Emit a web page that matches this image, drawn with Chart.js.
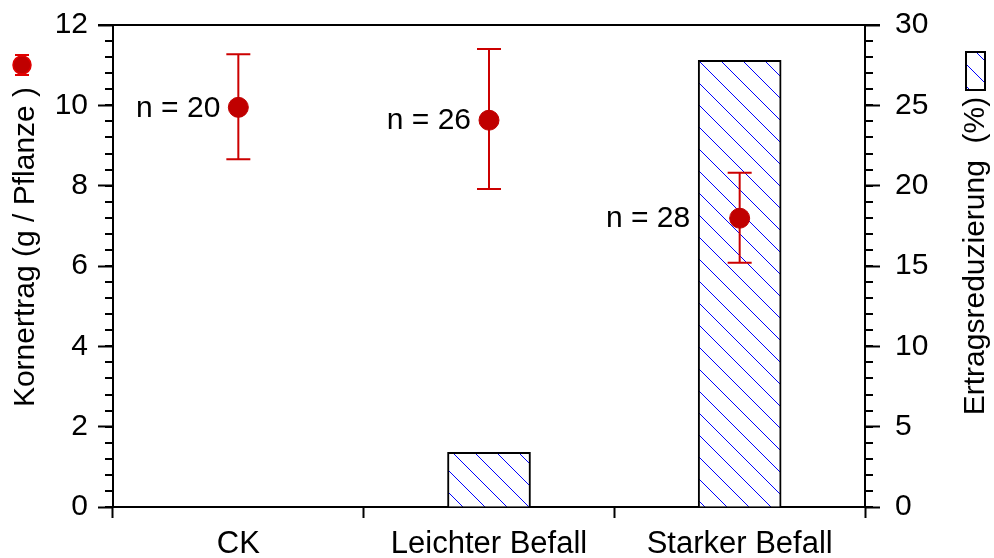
<!DOCTYPE html>
<html>
<head>
<meta charset="utf-8">
<script src="https://cdn.jsdelivr.net/npm/chart.js@4"></script>
<style>body{margin:0;background:#fff}</style>
</head>
<body>
<canvas id="chart" width="994" height="558"></canvas>
<script>
const categories = ["CK", "Leichter Befall", "Starker Befall"];
const yieldMean = [9.95, 9.63, 7.19];
const yieldLow = [8.66, 7.92, 6.08];
const yieldHigh = [11.27, 11.4, 8.32];
const reduction = [0, 3.4, 27.8];
const nLabels = ["n = 20", "n = 26", "n = 28"];
const leftTickValues = [0, 2, 4, 6, 8, 10, 12];
const rightTickValues = [0, 5, 10, 15, 20, 25, 30];

const FONT = "'Liberation Sans', Arial, sans-serif";
const RED = "#c00000";

// diagonal blue hatch for the bars
function hatch() {
  const c = document.createElement("canvas");
  c.width = 22; c.height = 22;
  const g = c.getContext("2d");
  g.fillStyle = "#fff";
  g.fillRect(0, 0, 22, 22);
  g.strokeStyle = "#0000ff";
  g.lineWidth = 1;
  g.beginPath();
  g.moveTo(-3, -3);
  g.lineTo(25, 25);
  g.stroke();
  return g.createPattern(c, "repeat");
}

// fixed axis box sizes so the plot area sits where the original has it
function fixY(width) {
  return s => {
    s.width = width;
    s.paddingTop = 0;
    s.paddingBottom = 0;
  };
}

const decor = {
  id: "decor",
  // error bars go over the bars, under the points
  afterDatasetDraw(chart, args) {
    if (args.meta.type !== "bar") return;
    const ctx = chart.ctx, x = chart.scales.x, y = chart.scales.y;
    ctx.save();
    ctx.strokeStyle = "#cc0000";
    ctx.lineWidth = 2;
    yieldMean.forEach((m, i) => {
      const px = x.getPixelForValue(i);
      const top = y.getPixelForValue(yieldHigh[i]);
      const bot = y.getPixelForValue(yieldLow[i]);
      ctx.beginPath();
      ctx.moveTo(px, top); ctx.lineTo(px, bot);
      ctx.moveTo(px - 12, top); ctx.lineTo(px + 12, top);
      ctx.moveTo(px - 12, bot); ctx.lineTo(px + 12, bot);
      ctx.stroke();
    });
    ctx.restore();
  },
  afterDraw(chart) {
    const ctx = chart.ctx, a = chart.chartArea;
    const x = chart.scales.x, y = chart.scales.y, y1 = chart.scales.y1;
    ctx.save();
    ctx.strokeStyle = "#000";
    ctx.lineWidth = 2;

    // top frame line
    ctx.beginPath();
    ctx.moveTo(a.left - 15, a.top);
    ctx.lineTo(a.right + 15, a.top);
    ctx.stroke();

    // minor ticks
    ctx.beginPath();
    for (let v = 0; v <= 12; v += 0.4) {
      const py = Math.round(y.getPixelForValue(v));
      ctx.moveTo(a.left - 8, py); ctx.lineTo(a.left, py);
    }
    for (let v = 0; v <= 30; v += 1) {
      const py = Math.round(y1.getPixelForValue(v));
      ctx.moveTo(a.right, py); ctx.lineTo(a.right + 8, py);
    }
    ctx.stroke();

    // n labels next to the points
    ctx.fillStyle = "#000";
    ctx.font = "30px " + FONT;
    ctx.textAlign = "right";
    ctx.textBaseline = "middle";
    const barMeta = chart.getDatasetMeta(0);
    nLabels.forEach((t, i) => {
      const px = x.getPixelForValue(i);
      const py = y.getPixelForValue(yieldMean[i]);
      let right = px - 18;
      const bar = barMeta.data[i];
      if (bar && bar.y < py) right = bar.x - bar.width / 2 - 8;
      ctx.fillText(t, right, py + 1);
    });

    // axis titles
    ctx.font = "30px " + FONT;
    ctx.textAlign = "center";
    ctx.textBaseline = "alphabetic";
    ctx.save();
    ctx.translate(34, 247);
    ctx.rotate(-Math.PI / 2);
    ctx.fillText("Kornertrag (g / Pflanze )", 0, 0);
    ctx.restore();
    ctx.save();
    ctx.translate(984, 256);
    ctx.rotate(-Math.PI / 2);
    ctx.fillText("Ertragsreduzierung  (%)", 0, 0);
    ctx.restore();

    // legend symbols
    ctx.strokeStyle = "#e00000";
    ctx.beginPath();
    ctx.moveTo(22, 55); ctx.lineTo(22, 75);
    ctx.moveTo(15, 55); ctx.lineTo(29, 55);
    ctx.moveTo(15, 75); ctx.lineTo(29, 75);
    ctx.stroke();
    ctx.beginPath();
    ctx.arc(22, 65, 9, 0, Math.PI * 2);
    ctx.fillStyle = RED;
    ctx.fill();
    ctx.lineWidth = 1.5;
    ctx.stroke();

    ctx.fillStyle = hatch();
    ctx.fillRect(966, 52, 19, 38);
    ctx.strokeStyle = "#000";
    ctx.lineWidth = 2;
    ctx.strokeRect(966, 52, 19, 38);
    ctx.restore();
  }
};

const tickFont = { family: FONT, size: 30 };

new Chart(document.getElementById("chart"), {
  data: {
    labels: categories,
    datasets: [
      {
        type: "bar",
        data: reduction,
        yAxisID: "y1",
        backgroundColor: hatch(),
        borderColor: "#000",
        borderWidth: 2,
        barThickness: 83,
        order: 2
      },
      {
        type: "line",
        data: yieldMean,
        yAxisID: "y",
        showLine: false,
        pointRadius: 10,
        pointBackgroundColor: RED,
        pointBorderColor: RED,
        order: 1
      }
    ]
  },
  options: {
    responsive: false,
    animation: false,
    devicePixelRatio: 1,
    layout: { padding: { top: 25 } },
    plugins: { legend: { display: false }, tooltip: { enabled: false } },
    scales: {
      x: {
        offset: true,
        grid: { offset: true, drawOnChartArea: false, tickLength: 11, tickWidth: 2, tickColor: "#000" },
        border: { color: "#000", width: 2 },
        ticks: { color: "#000", font: { family: FONT, size: 31 }, padding: 8, maxRotation: 0, autoSkip: false },
        afterFit(s) { s.height = 51; s.paddingLeft = 0; s.paddingRight = 0; }
      },
      y: {
        position: "left",
        min: 0,
        max: 12,
        afterBuildTicks(s) { s.ticks = leftTickValues.map(v => ({ value: v })); },
        grid: { drawOnChartArea: false, tickLength: 15, tickWidth: 2, tickColor: "#000" },
        border: { color: "#000", width: 2 },
        ticks: { color: "#000", font: tickFont, padding: 10 },
        afterFit: fixY(113)
      },
      y1: {
        position: "right",
        min: 0,
        max: 30,
        afterBuildTicks(s) { s.ticks = rightTickValues.map(v => ({ value: v })); },
        grid: { drawOnChartArea: false, tickLength: 15, tickWidth: 2, tickColor: "#000" },
        border: { color: "#000", width: 2 },
        ticks: { color: "#000", font: tickFont, padding: 15 },
        afterFit: fixY(129)
      }
    }
  },
  plugins: [decor]
});
</script>
</body>
</html>
